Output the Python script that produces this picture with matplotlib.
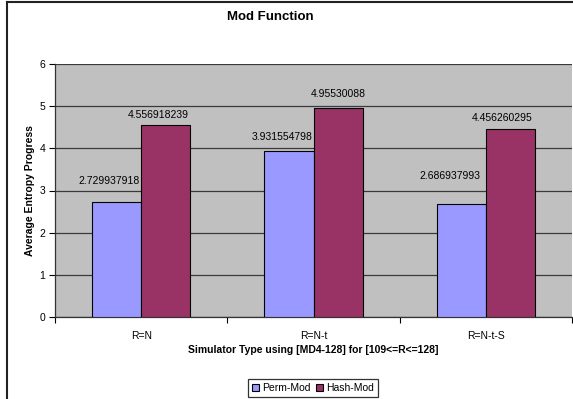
import matplotlib
matplotlib.use("Agg")
import matplotlib.pyplot as plt
from matplotlib.lines import Line2D
import numpy as np

plt.rcParams["font.family"] = ["Liberation Sans", "DejaVu Sans"]

categories = ["R=N", "R=N-t", "R=N-t-S"]
perm_mod = [2.729937918, 3.931554798, 2.686937993]
hash_mod = [4.556918239, 4.95530088, 4.456260295]
perm_text = ["2.729937918", "3.931554798", "2.686937993"]
hash_text = ["4.556918239", "4.95530088", "4.456260295"]

# label offsets (pixels) as placed in the original sheet
perm_off = [(-7, 21), (-7, 14), (-11, 28)]
hash_off = [(-8, 10), (0, 14), (-8, 11)]

BLUE = "#9999FF"
MAROON = "#993366"


def main():
    fig = plt.figure(figsize=(5.73, 3.99), dpi=100)
    ax = fig.add_axes([55 / 573, 82 / 399, 517 / 573, 253 / 399])
    ax.set_facecolor("#C0C0C0")

    x = np.arange(len(categories))
    w = 1 / 3.5
    b1 = ax.bar(x - w / 2, perm_mod, w, color=BLUE, edgecolor="black",
                linewidth=0.8, label="Perm-Mod", zorder=3)
    b2 = ax.bar(x + w / 2, hash_mod, w, color=MAROON, edgecolor="black",
                linewidth=0.8, label="Hash-Mod", zorder=3)

    for bars, texts, offs in [(b1, perm_text, perm_off), (b2, hash_text, hash_off)]:
        for r, t, (dx, dy) in zip(bars, texts, offs):
            ax.annotate(t, (r.get_x() + r.get_width() / 2, r.get_height()),
                        xytext=(dx, dy), textcoords="offset pixels",
                        ha="center", va="center", fontsize=7.5)

    ax.set_xlim(-0.5, 2.5)
    ax.set_ylim(0, 6)
    ax.set_yticks(range(7))
    ax.yaxis.grid(True, color="#3a3a3a", linewidth=0.9)
    ax.set_axisbelow(True)
    ax.tick_params(axis="y", direction="out", length=4, width=0.8,
                   labelsize=7.5, pad=3)
    ax.set_xticks([-0.5, 0.5, 1.5, 2.5])
    ax.set_xticklabels([])
    ax.set_xticks(x, minor=True)
    ax.set_xticklabels(categories, minor=True)
    ax.tick_params(axis="x", which="major", direction="out", length=4, width=0.8)
    ax.tick_params(axis="x", which="minor", length=0, labelsize=7.5, pad=10)
    for s in ["top", "right"]:
        ax.spines[s].set_visible(False)
    for s in ["left", "bottom"]:
        ax.spines[s].set_color("#333333")
        ax.spines[s].set_linewidth(0.9)

    fig.text(270 / 573, 1 - 17 / 399, "Mod Function", ha="center", va="center",
             fontsize=9.5, fontweight="bold")
    fig.text(313 / 573, 1 - 350 / 399,
             "Simulator Type using [MD4-128] for [109<=R<=128]",
             ha="center", va="center", fontsize=7.5, fontweight="bold")
    fig.text(30 / 573, 1 - 191 / 399, "Average Entropy Progress", rotation=90,
             ha="center", va="center", fontsize=7.5, fontweight="bold")

    leg = fig.legend(loc="center", bbox_to_anchor=(313 / 573, 1 - 388 / 399),
                     ncol=2, fontsize=7.5, frameon=True, fancybox=False,
                     handlelength=0.7, handleheight=0.7, handletextpad=0.3,
                     columnspacing=0.5, borderpad=0.35, borderaxespad=0)
    leg.get_frame().set_edgecolor("black")
    leg.get_frame().set_linewidth(0.9)

    # chart frame: only the left and top edges fall inside the crop
    top = 1 - 2 / 399
    left = 7 / 573
    fig.lines.append(Line2D([left, left], [0, top], transform=fig.transFigure,
                            color="#222222", linewidth=1.5))
    fig.lines.append(Line2D([left, 1], [top, top], transform=fig.transFigure,
                            color="#222222", linewidth=1.5))

    fig.savefig("out.png", dpi=100)


if __name__ == "__main__":
    main()
